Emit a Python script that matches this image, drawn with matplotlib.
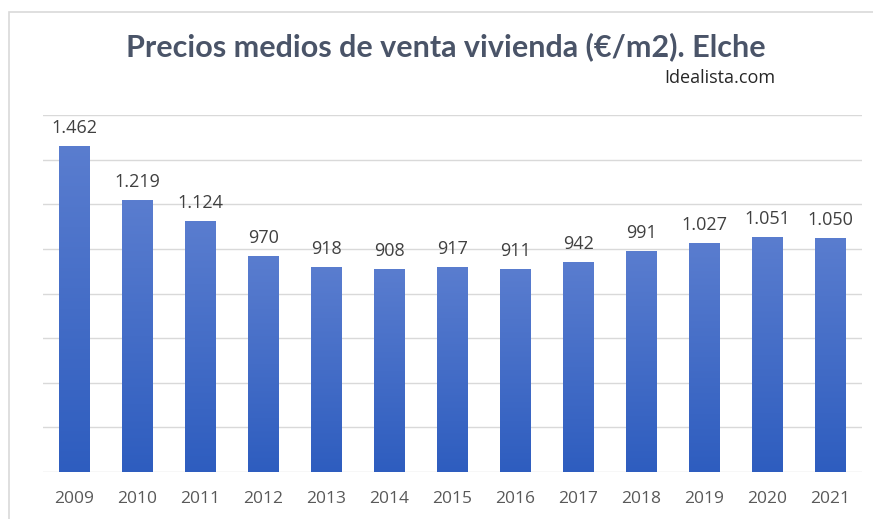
import numpy as np
import matplotlib
matplotlib.use("Agg")
import matplotlib.pyplot as plt
from matplotlib.patches import Rectangle

# data
years = ['2009', '2010', '2011', '2012', '2013', '2014', '2015',
         '2016', '2017', '2018', '2019', '2020', '2021']
precios = [1462, 1219, 1124, 970, 918, 908, 917, 911, 942, 991, 1027, 1051, 1050]
etiquetas = ['1.462', '1.219', '1.124', '970', '918', '908', '917',
             '911', '942', '991', '1.027', '1.051', '1.050']

fig = plt.figure(figsize=(8.73, 5.19), dpi=100)
fig.patch.set_facecolor('white')

# light border of the chart area
fig.patches.append(Rectangle((9/873, -0.05), 1.0, 1 - 12/519 + 0.05,
                             transform=fig.transFigure, fill=False,
                             edgecolor='#d9d9d9', lw=1.2))

ax = fig.add_axes([43/873, 1 - 472/519, 819/873, 357/519])
x = np.arange(len(years))
bars = ax.bar(x, precios, width=0.49, color='none', zorder=2)

# vertical gradient inside each bar (lighter on top)
grad = np.linspace(0, 1, 256).reshape(-1, 1)
cmap = matplotlib.colors.LinearSegmentedColormap.from_list('g', ['#2e5dbf', '#5a7dcf'])
for b in bars:
    x0, w, h = b.get_x(), b.get_width(), b.get_height()
    im = ax.imshow(grad, extent=(x0, x0 + w, 0, h), origin='lower',
                   cmap=cmap, aspect='auto', zorder=2)
    im.set_clip_path(b)

for xi, v, t in zip(x, precios, etiquetas):
    ax.annotate(t, (xi, v), xytext=(0, 6.5), textcoords='offset points',
                ha='center', va='bottom', fontsize=13, color='#404040',
                family='Open Sans')

ax.set_xlim(-0.5, len(years) - 0.5)
ax.set_ylim(0, 1600)
ax.set_yticks(np.arange(0, 1601, 200))
ax.yaxis.grid(True, color='#d9d9d9', lw=1)
ax.set_axisbelow(True)
ax.tick_params(left=False, bottom=False, labelleft=False)
ax.set_xticks(x)
ax.set_xticklabels(years, fontsize=12.5, color='#595959', family='Open Sans')
ax.tick_params(axis='x', pad=10)
for s in ax.spines.values():
    s.set_visible(False)

fig.text(446/873, 1 - 47/519, 'Precios medios de venta vivienda (€/m2). Elche',
         ha='center', va='center', fontsize=22, fontweight='bold',
         color='#4a5468', family='Lato')
fig.text(775/873, 1 - 78/519, 'Idealista.com', ha='right', va='center',
         fontsize=13, color='#262626', family='Open Sans')

fig.savefig('out.png', dpi=100)
